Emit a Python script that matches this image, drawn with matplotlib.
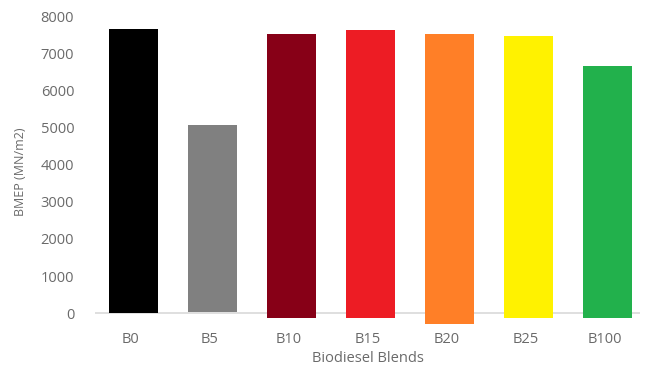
import matplotlib.pyplot as plt
import numpy as np

blends = ["B0", "B5", "B10", "B15", "B20", "B25", "B100"]
bmep = [7650, 5070, 7520, 7630, 7520, 7470, 6660]
# bars as drawn start a little under the zero line on some blends
bar_base = [0, 30, -130, -130, -290, -130, -130]
colors = ["#000000", "#808080", "#870017", "#ED1C24", "#FF7F27", "#FFF200", "#22B14C"]

plt.rcParams["font.family"] = ["Open Sans", "DejaVu Sans"]
txt = "#6a6a6a"

fig = plt.figure(figsize=(6.45, 3.68), dpi=100)
ax = fig.add_axes([95 / 645, 40 / 368, 545 / 645, 312 / 368])

x = np.arange(len(blends))
heights = [v - b for v, b in zip(bmep, bar_base)]
ax.bar(x + 0.04, heights, bottom=bar_base, width=0.62, color=colors, zorder=3)

ax.axhline(0, color="#d9d9d9", lw=1.2, zorder=1)

ax.set_xlim(-0.45, 6.45)
ax.set_ylim(-400, 8000)
ax.set_yticks(range(0, 8001, 1000))
ax.set_xticks(x)
ax.set_xticklabels(blends)
ax.tick_params(axis="y", length=0, pad=15, labelsize=10.5, labelcolor=txt)
ax.tick_params(axis="x", length=0, pad=3, labelsize=10.5, labelcolor=txt)
for s in ax.spines.values():
    s.set_visible(False)

ax.set_ylabel("BMEP (MN/m2)", fontsize=9, color=txt, labelpad=10)
ax.set_xlabel("Biodiesel Blends", fontsize=10.5, color=txt, labelpad=3)

plt.savefig("out.png", dpi=100)
plt.close()
